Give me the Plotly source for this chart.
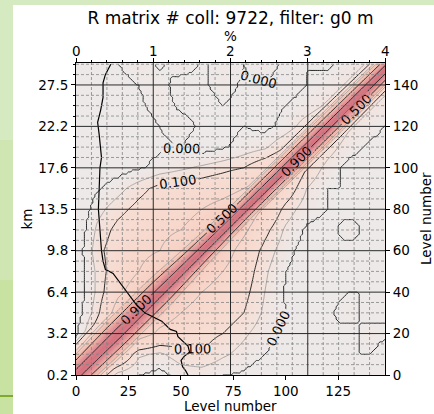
import numpy as np
import plotly.graph_objects as go

# ---------------- data ----------------
n_levels = 151
bg_nodes = [0, 10, 20, 30, 40, 50, 60, 70, 80, 90, 100, 110, 120, 130, 140, 150]
# background correlation, rows = y level node, cols = x level node
bg_grid = [
    [0.25, 0.15, 0.03, 0.00, -0.02, 0.02, 0.02, 0.00, -0.01, -0.04, -0.06, -0.05, -0.06, -0.05, -0.06, -0.06],
    [0.05, 0.25, 0.20, 0.06, 0.04, 0.08, 0.10, 0.06, 0.03, 0.00, -0.03, 0.00, -0.03, 0.00, 0.00, -0.03],
    [-0.02, 0.15, 0.30, 0.25, 0.18, 0.15, 0.12, 0.10, 0.06, 0.02, -0.02, -0.03, 0.00, -0.02, 0.02, 0.00],
    [-0.04, 0.08, 0.25, 0.30, 0.25, 0.20, 0.16, 0.14, 0.10, 0.04, 0.00, -0.03, -0.01, 0.02, -0.02, 0.00],
    [-0.05, 0.06, 0.18, 0.25, 0.30, 0.25, 0.20, 0.16, 0.12, 0.05, -0.01, -0.04, -0.02, 0.00, 0.00, -0.02],
    [-0.05, 0.06, 0.15, 0.20, 0.25, 0.30, 0.25, 0.20, 0.14, 0.06, 0.00, -0.04, 0.00, -0.03, 0.00, -0.03],
    [-0.05, 0.08, 0.14, 0.18, 0.20, 0.25, 0.30, 0.25, 0.16, 0.08, 0.02, -0.03, 0.00, -0.02, 0.00, 0.00],
    [-0.06, 0.06, 0.12, 0.15, 0.18, 0.20, 0.25, 0.30, 0.22, 0.12, 0.04, -0.01, -0.02, 0.02, -0.02, 0.00],
    [-0.07, 0.03, 0.08, 0.12, 0.15, 0.16, 0.20, 0.24, 0.28, 0.18, 0.08, 0.02, 0.00, -0.02, 0.00, -0.02],
    [-0.09, -0.01, 0.03, 0.08, 0.12, 0.13, 0.14, 0.16, 0.20, 0.25, 0.15, 0.05, 0.00, 0.00, -0.03, 0.00],
    [-0.09, -0.04, -0.03, -0.01, 0.02, 0.04, 0.06, 0.08, 0.10, 0.15, 0.20, 0.10, 0.03, -0.02, -0.03, -0.03],
    [-0.07, -0.04, -0.04, -0.03, -0.01, 0.00, -0.03, -0.01, 0.02, 0.04, 0.10, 0.15, 0.08, 0.02, -0.01, -0.03],
    [-0.06, -0.05, -0.04, -0.03, 0.00, 0.02, -0.01, -0.03, 0.00, -0.02, 0.02, 0.08, 0.12, 0.06, 0.02, -0.01],
    [-0.05, -0.04, -0.03, -0.01, 0.02, -0.01, -0.03, 0.00, -0.02, -0.03, 0.00, 0.02, 0.06, 0.10, 0.06, 0.02],
    [-0.04, -0.04, -0.03, 0.00, 0.02, -0.03, -0.01, 0.02, -0.01, 0.00, -0.03, 0.00, 0.02, 0.06, 0.10, 0.06],
    [-0.01, -0.03, 0.00, 0.03, -0.01, 0.03, -0.01, 0.02, 0.00, 0.02, -0.01, 0.00, -0.01, 0.02, 0.06, 0.10],
]
# diagonal band: lag (in levels) where correlation falls to 0.9 and 0.5
band_nodes = [0, 20, 40, 60, 80, 100, 120, 150]
lag_090 = [2.8, 3.0, 2.8, 2.5, 2.3, 2.2, 2.0, 2.0]
lag_050 = [7.0, 8.0, 8.0, 6.5, 5.5, 5.5, 5.5, 5.0]
band_corr_steps = [1.0, 0.9, 0.5, 0.2, 0.0]

# axis ticks
km_tick_levels = [0, 20, 40, 60, 80, 100, 120, 140]
km_tick_labels = ["0.2", "3.2", "6.4", "9.8", "13.5", "17.6", "22.2", "27.5"]
bottom_ticks = [0, 25, 50, 75, 100, 125]
right_ticks = [0, 20, 40, 60, 80, 100, 120, 140]
pct_ticks = [0, 1, 2, 3, 4]

# profile on the % axis
pct_level = [150, 145, 141, 134, 128, 122, 116, 112, 105, 100, 90, 80, 70, 60, 55, 51,
             49, 44, 38, 34, 30, 26, 22, 21, 18.5, 14, 11, 9, 7, 4, 2, 0]
pct_value = [0.45, 0.38, 0.35, 0.35, 0.32, 0.28, 0.30, 0.31, 0.33, 0.31, 0.30, 0.29, 0.31, 0.33, 0.35, 0.38,
             0.48, 0.58, 0.70, 0.78, 0.89, 1.11, 1.22, 1.30, 1.32, 1.45, 1.47, 1.40, 1.36, 1.38, 1.42, 1.45]

# ---------------- build matrix ----------------
lv = np.arange(n_levels)
nodes = np.array(bg_nodes, dtype=float)
bg = np.array(bg_grid, dtype=float)
tmp = np.array([np.interp(lv, nodes, row) for row in bg])
bgz = np.array([np.interp(lv, nodes, tmp[:, j]) for j in range(n_levels)]).T

X, Y = np.meshgrid(lv, lv)
lag = np.abs(X - Y).astype(float)
mid = (X + Y) / 2.0
l9 = np.interp(mid, band_nodes, lag_090)
l5 = np.interp(mid, band_nodes, lag_050)
c = band_corr_steps
band = np.select(
    [lag <= l9, lag <= l5, lag <= 1.6 * l5, lag <= 2.4 * l5],
    [c[0] - (c[0] - c[1]) * lag / l9,
     c[1] - (c[1] - c[2]) * (lag - l9) / (l5 - l9),
     c[2] - (c[2] - c[3]) * (lag - l5) / (0.6 * l5),
     c[3] - (c[3] - c[4]) * (lag - 1.6 * l5) / (0.8 * l5)],
    0.0)
z = np.maximum(bgz, band)

colorscale = [
    [0.0, "#8fa6e6"], [0.35, "#d0dcf6"], [0.45, "#dde5f5"], [0.475, "#e3e8f3"], [0.5, "#ede9e9"],
    [0.525, "#f2e4df"], [0.55, "#f6ded5"], [0.6, "#f8d6ca"], [0.675, "#f3c4b6"],
    [0.75, "#eeb0a5"], [0.85, "#e4979a"], [0.95, "#d9808a"], [1.0, "#d4727e"],
]

FONT = "DejaVu Sans"
fig = go.Figure()
fig.add_trace(go.Heatmap(x=lv, y=lv, z=z, colorscale=colorscale, zmin=-1, zmax=1,
                         zsmooth="best", showscale=False, hoverinfo="skip"))


def contour_lines(start, end, size, color, width, labels, rows=slice(None)):
    fig.add_trace(go.Contour(
        x=lv, y=lv[rows], z=z[rows, :], showscale=False, hoverinfo="skip",
        contours=dict(coloring="none", start=start, end=end, size=size,
                      showlabels=labels,
                      labelfont=dict(family=FONT, size=13, color="black"),
                      labelformat=".3f"),
        line=dict(color=color, width=width, smoothing=1)))


contour_lines(-0.04, -0.04, 1, "#9a9a9a", 0.8, False)
contour_lines(0.05, 0.05, 1, "#9a9a9a", 0.8, False)
contour_lines(0.2, 0.3, 0.1, "#9a9a9a", 0.8, False)
contour_lines(0.0, 0.0, 1, "#2a2a2a", 1.0, True)
contour_lines(0.1, 0.1, 1, "#2a2a2a", 1.0, True, slice(0, 106))
contour_lines(0.1, 0.1, 1, "#2a2a2a", 1.0, False, slice(105, None))
contour_lines(0.5, 0.9, 0.4, "#2a2a2a", 1.0, True)

fig.add_trace(go.Scatter(x=pct_value, y=pct_level, xaxis="x2", yaxis="y", mode="lines",
                         line=dict(color="black", width=1.2), hoverinfo="skip", showlegend=False))
fig.add_trace(go.Scatter(x=lv[:1], y=lv[:1], xaxis="x", yaxis="y2", mode="markers",
                         marker=dict(opacity=0), hoverinfo="skip", showlegend=False))

# ---------------- layout ----------------
W, H = 434, 414
ml, mr, mt, mb = 76, 49, 63, 39
pw, ph = W - ml - mr, H - mt - mb


def px_x(p):
    return (p - ml) / pw


def px_y(p):
    return (H - mb - p) / ph


shapes = []
# green frame: white panel, gradient strip, green rule at bottom-left
for y0, y1, col in [(0, 140, "#d6eac2"), (140, 280, "#cfe6b2"), (280, 414, "#c8e2a2")]:
    shapes.append(dict(type="rect", xref="paper", yref="paper", layer="below",
                       x0=px_x(0), x1=px_x(13), y0=px_y(y0), y1=px_y(y1),
                       fillcolor=col, line=dict(width=0)))
shapes.append(dict(type="rect", xref="paper", yref="paper", layer="below",
                   x0=px_x(13), x1=px_x(W), y0=px_y(5), y1=px_y(H),
                   fillcolor="white", line=dict(width=0)))
shapes.append(dict(type="line", xref="paper", yref="paper", layer="below",
                   x0=px_x(0), x1=px_x(13), y0=px_y(396), y1=px_y(396),
                   line=dict(color="#7fab2c", width=2)))

# grid lines from tick arrays
pct_minor = [round(v, 1) for v in np.arange(0.2, 4.0, 0.2) if abs(v - round(v)) > 1e-6]
lev_minor = [v for v in range(5, 151, 5) if v % 20 != 0]
for v in pct_minor:
    shapes.append(dict(type="line", xref="x2", yref="paper", x0=v, x1=v, y0=0, y1=1, layer="above",
                       line=dict(color="#858585", width=0.8, dash="3px,2px")))
for v in lev_minor:
    shapes.append(dict(type="line", xref="paper", yref="y", x0=0, x1=1, y0=v, y1=v, layer="above",
                       line=dict(color="#858585", width=0.8, dash="3px,2px")))
for v in pct_ticks[1:-1]:
    shapes.append(dict(type="line", xref="x2", yref="paper", x0=v, x1=v, y0=0, y1=1, layer="above",
                       line=dict(color="#2a2a2a", width=1)))
for v in right_ticks[1:]:
    shapes.append(dict(type="line", xref="paper", yref="y", x0=0, x1=1, y0=v, y1=v, layer="above",
                       line=dict(color="#2a2a2a", width=1)))

tickfont = dict(family=FONT, size=13.5, color="black")
titlefont = dict(family=FONT, size=13.5, color="black")
XR = [0, 147.3]
YR = [0, 150.6]

annotations = []
for v in pct_ticks:
    annotations.append(dict(x=v, xref="x2", y=1, yref="paper", yshift=12, text=str(v),
                            showarrow=False, xanchor="center", yanchor="middle", font=tickfont))
annotations.append(dict(x=0.5, xref="paper", y=1, yref="paper", yshift=27, text="%",
                        showarrow=False, xanchor="center", yanchor="middle", font=titlefont))
annotations.append(dict(x=1, xref="paper", xshift=41, y=0.5, yref="paper", text="Level number",
                        textangle=-90, showarrow=False, xanchor="center", yanchor="middle", font=titlefont))
annotations.append(dict(x=0.5, xref="paper", y=0, yref="paper", yshift=-31, text="Level number",
                        showarrow=False, xanchor="center", yanchor="middle", font=titlefont))

fig.update_layout(
    width=W, height=H, margin=dict(l=ml, r=mr, t=mt, b=mb, autoexpand=False),
    paper_bgcolor="#d6eac2", plot_bgcolor="white", showlegend=False,
    title=dict(text="R matrix # coll: 9722, filter: g0 m", x=0.5, xref="paper", xanchor="center",
               y=1 - 18.5 / H, yref="container", yanchor="middle",
               font=dict(family=FONT, size=17, color="black")),
    xaxis=dict(range=XR, tickvals=bottom_ticks, ticks="outside", ticklen=4, tickcolor="black",
               showgrid=False, zeroline=False, showline=True, linecolor="black", linewidth=1, mirror=True,
               tickfont=tickfont, automargin=False, layer="above traces"),
    xaxis2=dict(range=[0, 4], overlaying="x", side="top", tickvals=pct_ticks, ticks="outside", ticklen=4,
                tickcolor="black", minor=dict(dtick=0.2, ticks="outside", ticklen=2, tickcolor="black", showgrid=False),
                showgrid=False, zeroline=False, showline=False, showticklabels=False,
                automargin=False, layer="above traces"),
    yaxis=dict(range=YR, tickvals=km_tick_levels, ticktext=km_tick_labels, ticks="outside", ticklen=4,
               tickcolor="black", minor=dict(dtick=5, ticks="outside", ticklen=2, tickcolor="black", showgrid=False),
               showgrid=False, zeroline=False, showline=True, linecolor="black", linewidth=1, mirror=True,
               tickfont=tickfont, title=dict(text="km", font=titlefont, standoff=2),
               automargin=False, layer="above traces"),
    yaxis2=dict(range=YR, overlaying="y", side="right", tickvals=right_ticks, ticks="outside", ticklen=4,
                tickcolor="black", showgrid=False, zeroline=False, showline=False,
                tickfont=tickfont, automargin=False, layer="above traces"),
    shapes=shapes,
    annotations=annotations,
)

fig.write_html("out.html")
